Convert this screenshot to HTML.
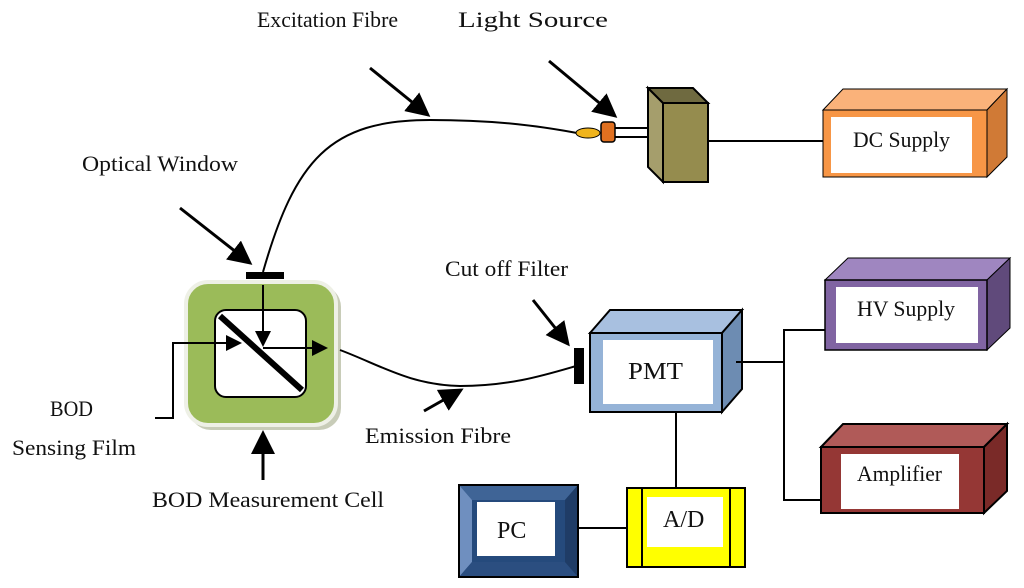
<!DOCTYPE html>
<html><head><meta charset="utf-8"><style>
html,body{margin:0;padding:0;background:#fff;}
svg{display:block;}
text{font-family:"Liberation Serif",serif;font-size:22px;fill:#111;}
</style></head><body>
<svg width="1024" height="588" viewBox="0 0 1024 588" xmlns="http://www.w3.org/2000/svg">
<defs>
<marker id="ah" markerWidth="8" markerHeight="8" refX="7" refY="4" orient="auto" markerUnits="strokeWidth">
<path d="M0,0 L8,4 L0,8 z" fill="#000"/></marker>
</defs>

<!-- labels -->
<text x="257" y="27" textLength="141" lengthAdjust="spacingAndGlyphs">Excitation Fibre</text>
<text x="458" y="27" textLength="150" lengthAdjust="spacingAndGlyphs">Light Source</text>
<text x="82" y="171" textLength="156" lengthAdjust="spacingAndGlyphs">Optical Window</text>
<text x="445" y="276" textLength="123" lengthAdjust="spacingAndGlyphs">Cut off Filter</text>
<text x="50" y="416" textLength="43" lengthAdjust="spacingAndGlyphs">BOD</text>
<text x="12" y="455" textLength="124" lengthAdjust="spacingAndGlyphs">Sensing Film</text>
<text x="365" y="443" textLength="146" lengthAdjust="spacingAndGlyphs">Emission Fibre</text>
<text x="152" y="507" textLength="232" lengthAdjust="spacingAndGlyphs">BOD Measurement Cell</text>

<!-- pointer arrows -->
<g stroke="#000" stroke-width="3" fill="none" marker-end="url(#ah)">
<line x1="370" y1="68" x2="428" y2="115"/>
<line x1="549" y1="61" x2="615" y2="116"/>
<line x1="180" y1="208" x2="250" y2="263"/>
<line x1="533" y1="300" x2="568" y2="344"/>
<line x1="424" y1="411" x2="461" y2="390"/>
<line x1="263" y1="480" x2="263" y2="433"/>
</g>

<!-- excitation fibre -->
<path d="M263,272 C295,160 330,120 430,120 C500,120 545,127 577,133" stroke="#000" stroke-width="2" fill="none"/>

<!-- light source -->
<rect x="612" y="128" width="48" height="9" fill="#fff" stroke="#000" stroke-width="2"/>
<ellipse cx="588" cy="133" rx="12" ry="5" fill="#f0b41c" stroke="#000" stroke-width="1"/>
<rect x="601" y="122" width="14" height="20" rx="3" fill="#e07020" stroke="#000" stroke-width="1.5"/>
<polygon points="648,88 663,103 663,182 648,167" fill="#a59e6c" stroke="#000" stroke-width="2"/>
<polygon points="648,88 693,88 708,103 663,103" fill="#6f6a40" stroke="#000" stroke-width="2"/>
<rect x="663" y="103" width="45" height="79" fill="#958c4e" stroke="#000" stroke-width="2"/>
<line x1="708" y1="141" x2="826" y2="141" stroke="#000" stroke-width="2"/>

<!-- DC supply -->
<polygon points="823,110 843,89 1007,89 987,110" fill="#fab27a" stroke="#000" stroke-width="1"/>
<polygon points="987,110 1007,89 1007,157 987,177" fill="#d07a36" stroke="#000" stroke-width="1"/>
<rect x="823" y="110" width="164" height="67" fill="#f79646" stroke="#000" stroke-width="1"/>
<rect x="831" y="117" width="141" height="56" fill="#fff"/>
<text x="853" y="147" textLength="97" lengthAdjust="spacingAndGlyphs">DC Supply</text>

<!-- cell -->
<rect x="189" y="285" width="152" height="145" rx="22" fill="#c8ccb8"/>
<rect x="186" y="282" width="150" height="143" rx="22" fill="#9bbb59" stroke="#eef0e6" stroke-width="4"/>
<rect x="215" y="310" width="91" height="87" rx="11" fill="#fff" stroke="#000" stroke-width="2"/>
<line x1="220" y1="316" x2="302" y2="390" stroke="#000" stroke-width="6"/>
<rect x="246" y="272" width="38" height="7" fill="#000"/>
<g stroke="#000" stroke-width="2" fill="none" marker-end="url(#ah)">
<line x1="263" y1="285" x2="263" y2="345"/>
<line x1="263" y1="348" x2="326" y2="348"/>
<polyline points="155,418 173,418 173,343 240,343"/>
</g>

<!-- emission fibre -->
<path d="M340,350 C380,365 410,385 460,386 C510,386 545,375 576,366" stroke="#000" stroke-width="2" fill="none"/>
<rect x="574" y="348" width="10" height="36" fill="#000"/>

<!-- PMT -->
<polygon points="590,333 610,310 742,310 722,333" fill="#a8c0e0" stroke="#000" stroke-width="2"/>
<polygon points="722,333 742,310 742,389 722,412" fill="#6d8cb2" stroke="#000" stroke-width="2"/>
<rect x="590" y="333" width="132" height="79" fill="#95b3d7" stroke="#000" stroke-width="2"/>
<rect x="603" y="340" width="110" height="64" fill="#fff"/>
<text x="628" y="379" style="font-size:24px" textLength="55" lengthAdjust="spacingAndGlyphs">PMT</text>

<!-- connectors -->
<g stroke="#000" stroke-width="2" fill="none">
<polyline points="736,362 784,362"/>
<polyline points="825,330 784,330 784,500 822,500"/>
<line x1="676" y1="412" x2="676" y2="488"/>
<line x1="578" y1="528" x2="627" y2="528"/>
</g>

<!-- HV supply -->
<polygon points="825,280 848,258 1010,258 987,280" fill="#9f86c0" stroke="#000" stroke-width="1"/>
<polygon points="987,280 1010,258 1010,328 987,350" fill="#604a7b" stroke="#000" stroke-width="1"/>
<rect x="825" y="280" width="162" height="70" fill="#8064a2" stroke="#000" stroke-width="1.5"/>
<rect x="836" y="287" width="142" height="56" fill="#fff"/>
<text x="857" y="316" textLength="98" lengthAdjust="spacingAndGlyphs">HV Supply</text>

<!-- Amplifier -->
<polygon points="821,447 843,424 1007,424 984,447" fill="#b05a58" stroke="#000" stroke-width="2"/>
<polygon points="984,447 1007,424 1007,491 984,513" fill="#7a2a28" stroke="#000" stroke-width="2"/>
<rect x="821" y="447" width="163" height="66" fill="#953735" stroke="#000" stroke-width="2"/>
<rect x="841" y="454" width="118" height="55" fill="#fff"/>
<text x="857" y="481" textLength="85" lengthAdjust="spacingAndGlyphs">Amplifier</text>

<!-- PC -->
<rect x="459" y="485" width="119" height="92" fill="#254a7c" stroke="#000" stroke-width="2"/>
<polygon points="459,485 578,485 565,500 472,500" fill="#3f6496"/>
<polygon points="459,485 472,500 472,562 459,577" fill="#6f8fbf"/>
<polygon points="459,577 472,562 565,562 578,577" fill="#2b4e80"/>
<polygon points="578,485 565,500 565,562 578,577" fill="#1f3c66"/>
<rect x="459" y="485" width="119" height="92" fill="none" stroke="#000" stroke-width="2"/>
<rect x="477" y="502" width="78" height="54" fill="#fff"/>
<text x="497" y="538" style="font-size:24px">PC</text>

<!-- A/D -->
<rect x="627" y="488" width="118" height="79" fill="#ffff00" stroke="#000" stroke-width="2"/>
<line x1="642" y1="488" x2="642" y2="567" stroke="#000" stroke-width="2"/>
<line x1="730" y1="488" x2="730" y2="567" stroke="#000" stroke-width="2"/>
<rect x="647" y="497" width="76" height="50" fill="#fff"/>
<text x="663" y="527" style="font-size:24px">A/D</text>
</svg>
</body></html>
